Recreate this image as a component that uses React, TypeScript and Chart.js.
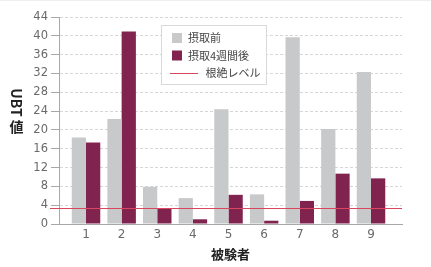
import React, { useEffect, useRef } from "react";
import { Chart, registerables } from "chart.js";

Chart.register(...registerables);

const SUBJECTS = [1, 2, 3, 4, 5, 6, 7, 8, 9];
const BEFORE = [18.4, 22.3, 7.9, 5.5, 24.4, 6.3, 39.7, 20.2, 32.3];
const AFTER = [17.3, 40.9, 3.4, 1.0, 6.2, 0.7, 4.9, 10.7, 9.7];
const LEVEL = 3.5;
const SERIES_NAMES = ["摂取前", "摂取4週間後", "根絶レベル"];
const Y_MAX = 44;
const Y_STEP = 4;
const X_MIN = 0.242;
const X_MAX = 9.87;
const X_TITLE = "被験者";
const Y_TITLE_LATIN = "UBT";
const Y_TITLE_CJK = "値";

const GRAY = "#c8c9ca";
const PURPLE = "#80234f";
const RED = "#d9475e";
const JP = "'Noto Sans CJK JP', 'Noto Sans', sans-serif";

const decorPlugin = {
  id: "decor",
  beforeDraw(chart: any) {
    const { ctx, width } = chart;
    ctx.save();
    ctx.fillStyle = "#ffffff";
    ctx.fillRect(0, 0, width, chart.height);
    ctx.fillStyle = "#efedef";
    ctx.fillRect(0, 0, width, 1);
    ctx.restore();
  },
  afterDatasetsDraw(chart: any) {
    const { ctx, chartArea } = chart;
    const y = chart.scales.y;
    const py = Math.round(y.getPixelForValue(LEVEL)) + 0.5;
    ctx.save();
    ctx.strokeStyle = RED;
    ctx.lineWidth = 1;
    ctx.beginPath();
    ctx.moveTo(y.right - 9, py);
    ctx.lineTo(chartArea.right, py);
    ctx.stroke();
    ctx.restore();
  },
  afterDraw(chart: any) {
    const { ctx, chartArea } = chart;
    ctx.save();
    // x title
    ctx.fillStyle = "#222";
    ctx.font = `bold 13px ${JP}`;
    ctx.textAlign = "center";
    ctx.textBaseline = "middle";
    ctx.fillText(X_TITLE, (chartArea.left + chartArea.right) / 2, 254.5);
    // y title (vertical)
    ctx.save();
    ctx.translate(16.5, 102.5);
    ctx.rotate(Math.PI / 2);
    ctx.font = `bold 14px ${JP}`;
    ctx.textAlign = "center";
    ctx.textBaseline = "middle";
    ctx.fillText(Y_TITLE_LATIN, 0, 0);
    ctx.restore();
    ctx.font = `bold 14px ${JP}`;
    ctx.textAlign = "center";
    ctx.textBaseline = "middle";
    ctx.fillText(Y_TITLE_CJK, 16.5, 127);

    // legend
    const bx = 161.5, by = 25.5, bw = 105, bh = 59;
    ctx.fillStyle = "#ffffff";
    ctx.fillRect(bx, by, bw, bh);
    ctx.strokeStyle = "#d9d9d9";
    ctx.lineWidth = 1;
    ctx.strokeRect(bx, by, bw, bh);
    const rows = [38, 55.5, 73];
    const ds = chart.data.datasets;
    ctx.font = `11px ${JP}`;
    ctx.textAlign = "left";
    ctx.textBaseline = "middle";
    for (let i = 0; i < 3; i++) {
      const cy = rows[i];
      if (i < 2) {
        ctx.fillStyle = ds[i].backgroundColor;
        ctx.fillRect(172, cy - 5, 10, 10);
      } else {
        ctx.strokeStyle = RED;
        ctx.beginPath();
        ctx.moveTo(170, Math.round(cy) + 0.5);
        ctx.lineTo(198, Math.round(cy) + 0.5);
        ctx.stroke();
      }
      ctx.fillStyle = "#444";
      ctx.fillText(SERIES_NAMES[i], i < 2 ? 188 : 205.5, cy);
    }
    ctx.restore();
  },
};

export default function App() {
  const ref = useRef<HTMLCanvasElement>(null);
  useEffect(() => {
    if (!ref.current) return;
    const chart = new Chart(ref.current, {
      type: "bar",
      data: {
        datasets: [
          {
            label: SERIES_NAMES[0],
            data: SUBJECTS.map((s, i) => ({ x: s, y: BEFORE[i] })),
            backgroundColor: GRAY,
            categoryPercentage: 0.8,
            barPercentage: 1.0,
          },
          {
            label: SERIES_NAMES[1],
            data: SUBJECTS.map((s, i) => ({ x: s, y: AFTER[i] })),
            backgroundColor: PURPLE,
            categoryPercentage: 0.8,
            barPercentage: 1.0,
          },
        ],
      },
      options: {
        animation: false,
        responsive: false,
        devicePixelRatio: 1,
        layout: { padding: { left: 0, top: 17, right: 29, bottom: 0 } },
        plugins: { legend: { display: false }, tooltip: { enabled: false } },
        scales: {
          x: {
            type: "linear",
            offset: false,
            min: X_MIN,
            max: X_MAX,
            afterBuildTicks: (scale: any) => {
              scale.ticks = SUBJECTS.map((v) => ({ value: v }));
            },
            afterFit: (scale: any) => {
              scale.height = 43;
            },
            grid: { display: false, drawTicks: false },
            border: { display: true, color: "#a8a8a8", width: 1 },
            ticks: {
              color: "#6a6a6a",
              font: { family: "'DejaVu Sans', sans-serif", size: 12 },
              padding: 4,
              maxRotation: 0,
              callback: (v: any) => String(v),
            },
          },
          y: {
            min: 0,
            max: Y_MAX,
            afterFit: (scale: any) => {
              scale.width = 59;
            },
            ticks: {
              stepSize: Y_STEP,
              color: "#6a6a6a",
              font: { family: "'DejaVu Sans', sans-serif", size: 11.5 },
              padding: 3,
            },
            grid: {
              color: "#d6d6d6",
              tickLength: 8,
              tickColor: "#a8a8a8",
            },
            border: { display: true, color: "#a8a8a8", width: 1, dash: [3, 2] },
          },
        },
      },
      plugins: [decorPlugin],
    } as any);
    return () => chart.destroy();
  }, []);
  return (
    <div style={{ position: "fixed", left: 0, top: 0, width: 431, height: 267, background: "#fff" }}>
      <canvas ref={ref} width={431} height={267} style={{ display: "block" }} />
    </div>
  );
}
